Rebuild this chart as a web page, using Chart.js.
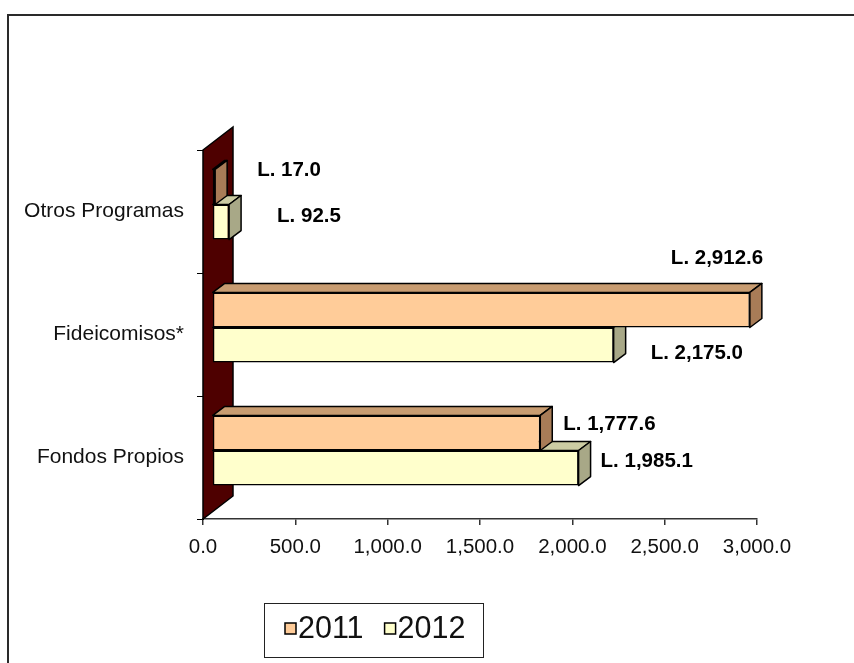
<!DOCTYPE html>
<html lang="es">

<head>
  <meta charset="utf-8">
  <title>Fondos por programa 2011 - 2012</title>
  <script src="https://cdn.jsdelivr.net/npm/chart.js"></script>
  <style>
    body { margin: 0; background: #fff; }
  </style>
</head>

<body>
  <canvas id="myChart" width="854" height="663"></canvas>
  <script>
    var categories = ['Otros Programas', 'Fideicomisos*', 'Fondos Propios'];
    var years = ['2011', '2012'];
    var values2011 = [17.0, 2912.6, 1777.6];
    var values2012 = [92.5, 2175.0, 1985.1];

    var FONT = "'Liberation Sans', Arial, sans-serif";

    // front / top / side colours for each series
    var shades = [
      { front: '#FFCC99', top: '#C89C71', side: '#A87C57' },
      { front: '#FFFFCC', top: '#CCCCA3', side: '#A8A887' }
    ];

    // depth of the back wall and of each bar
    var WALL_DX = 30, WALL_DY = 23;
    var BAR_SHIFT_X = 9, BAR_SHIFT_Y = -7;
    var BAR_DX = 12, BAR_DY = 9;

    // value labels were placed by hand, offsets from the back end of each bar
    var labelNudge = [
      [[30, -17], [-91, -52], [11, -9]],
      [[36, -6], [25, 8], [10, -7]]
    ];

    function fmt(v) {
      return Number(v).toLocaleString('en-US', { minimumFractionDigits: 1, maximumFractionDigits: 1 });
    }

    function poly(ctx, pts, fill) {
      ctx.beginPath();
      ctx.moveTo(pts[0][0], pts[0][1]);
      for (var i = 1; i < pts.length; i++) ctx.lineTo(pts[i][0], pts[i][1]);
      ctx.closePath();
      ctx.fillStyle = fill;
      ctx.fill();
      ctx.stroke();
    }

    var bars3d = {
      id: 'bars3d',
      beforeDraw: function (chart) {
        var ctx = chart.ctx;
        ctx.save();
        ctx.strokeStyle = '#2a2a2a';
        ctx.lineWidth = 2;
        ctx.strokeRect(8, 15, 900, 700);
        ctx.restore();
      },
      beforeDatasetsDraw: function (chart) {
        var ctx = chart.ctx, a = chart.chartArea;
        var x0 = chart.scales.x.getPixelForValue(0);
        // back wall
        ctx.save();
        ctx.strokeStyle = '#000';
        ctx.lineWidth = 1.5;
        poly(ctx, [[x0, a.top], [x0 + WALL_DX, a.top - WALL_DY],
          [x0 + WALL_DX, a.bottom - WALL_DY], [x0, a.bottom]], '#4E0000');
        ctx.restore();
        ctx.save();
        ctx.translate(BAR_SHIFT_X, BAR_SHIFT_Y);
      },
      afterDatasetDraw: function (chart, args) {
        var ctx = chart.ctx, s = shades[args.index];
        ctx.save();
        ctx.strokeStyle = '#000';
        ctx.lineWidth = 1.5;
        ctx.lineJoin = 'round';
        args.meta.data.forEach(function (el) {
          var p = el.getProps(['x', 'y', 'base', 'height'], true);
          var t = p.y - p.height / 2, b = p.y + p.height / 2;
          poly(ctx, [[p.base, t], [p.base + BAR_DX, t - BAR_DY], [p.x + BAR_DX, t - BAR_DY], [p.x, t]], s.top);
          poly(ctx, [[p.x, t], [p.x + BAR_DX, t - BAR_DY], [p.x + BAR_DX, b - BAR_DY], [p.x, b]], s.side);
        });
        ctx.restore();
      },
      afterDatasetsDraw: function (chart) {
        var ctx = chart.ctx;
        ctx.font = 'bold 20.5px ' + FONT;
        ctx.fillStyle = '#000';
        ctx.textAlign = 'left';
        ctx.textBaseline = 'middle';
        chart.data.datasets.forEach(function (ds, di) {
          chart.getDatasetMeta(di).data.forEach(function (el, i) {
            var p = el.getProps(['x', 'y'], true);
            var n = labelNudge[di][i];
            ctx.fillText('L. ' + fmt(ds.data[i]), p.x + BAR_DX + n[0], p.y + n[1]);
          });
        });
        ctx.restore();
      },
      afterDraw: function (chart) {
        var ctx = chart.ctx;
        ctx.save();
        ctx.strokeStyle = '#222';
        ctx.lineWidth = 1;
        ctx.strokeRect(264.5, 603.5, 219, 54);
        ctx.font = '30.5px ' + FONT;
        ctx.textBaseline = 'middle';
        ctx.textAlign = 'left';
        var x = 285;
        chart.data.datasets.forEach(function (ds, di) {
          ctx.fillStyle = shades[di].front;
          ctx.fillRect(x, 623, 11, 11);
          ctx.lineWidth = 1.5;
          ctx.strokeStyle = '#000';
          ctx.strokeRect(x, 623, 11, 11);
          ctx.fillStyle = '#111';
          ctx.fillText(ds.label, x + 13, 630);
          x += 13 + ctx.measureText(ds.label).width + 21;
        });
        ctx.restore();
      }
    };

    const ctx = document.getElementById('myChart');

    new Chart(ctx, {
      type: 'bar',
      data: {
        labels: categories,
        datasets: [{
          label: years[0],
          data: values2011,
          backgroundColor: shades[0].front,
          borderColor: '#000',
          borderWidth: 1.5,
          borderSkipped: false,
          categoryPercentage: 0.57,
          barPercentage: 1.0,
          clip: false
        }, {
          label: years[1],
          data: values2012,
          backgroundColor: shades[1].front,
          borderColor: '#000',
          borderWidth: 1.5,
          borderSkipped: false,
          categoryPercentage: 0.57,
          barPercentage: 1.0,
          clip: false
        }]
      },
      options: {
        indexAxis: 'y',
        responsive: false,
        animation: false,
        layout: { padding: { left: 0, right: 97, top: 150, bottom: 104 } },
        plugins: {
          legend: { display: false },
          tooltip: { enabled: false }
        },
        scales: {
          x: {
            min: 0,
            max: 3000,
            ticks: {
              stepSize: 500,
              color: '#111',
              padding: 10,
              font: { family: FONT, size: 20.5 },
              callback: function (v) { return fmt(v); }
            },
            grid: { drawOnChartArea: false, tickLength: 6, color: '#333', lineWidth: 1.5 },
            border: { color: '#333', width: 1.5 },
            afterFit: function (s) { s.height = 40; }
          },
          y: {
            ticks: {
              color: '#111',
              padding: 13,
              font: { family: FONT, size: 21 }
            },
            grid: { drawOnChartArea: false, tickLength: 6, color: '#000' },
            border: { color: '#000' },
            afterFit: function (s) { s.width = 203; }
          }
        }
      },
      plugins: [bars3d]
    });
  </script>
</body>

</html>
